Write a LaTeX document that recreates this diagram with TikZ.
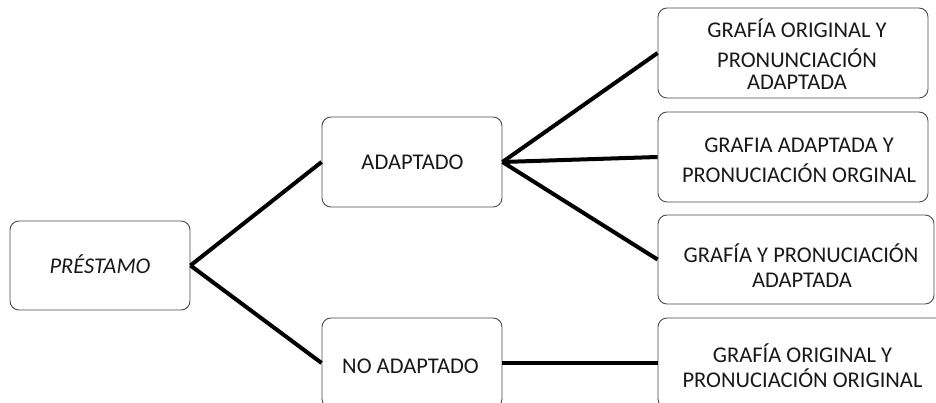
\documentclass[tikz,border=0pt]{standalone}
\usepackage{fontspec}
\setmainfont{Carlito}
\begin{document}
\begin{tikzpicture}[x=1pt,y=-1pt,
  box/.style={draw=black!70, line width=0.9pt, rounded corners=9pt, fill=white, inner sep=0pt},
  txt/.style={anchor=base, inner sep=0pt, text=black!90, font=\fontsize{22.5}{25}\selectfont},
  link/.style={line width=4pt, black}]
  \clip (0,0) rectangle (936,403);
  \fill[white] (0,0) rectangle (936,403);

  % boxes of the root and of the first level
  \node[box, minimum width=180pt, minimum height=89pt] (pre) at (100,265.5) {};
  \node[box, minimum width=180pt, minimum height=90pt] (ad) at (412,162) {};
  \node[box, minimum width=180pt, minimum height=90pt] (noad) at (412,363) {};

  % boxes of the second level
  \node[box, minimum width=270pt, minimum height=90pt] (g1) at (793,53) {};
  \node[box, minimum width=270pt, minimum height=90pt] (g2) at (793,157) {};
  \node[box, minimum width=276pt, minimum height=89pt] (g3) at (796,259.5) {};
  \node[box, minimum width=290pt, minimum height=90pt] (g4) at (803,363) {};

  % labels, one node per printed line
  \node[txt] (preT) at (100,273) {\itshape PRÉSTAMO};
  \node[txt] (adT) at (412.5,170) {ADAPTADO};
  \node[txt] (noadT) at (410.5,373) {NO ADAPTADO};

  \node[txt] (g1a) at (797,38) {GRAFÍA ORIGINAL Y};
  \node[txt] (g1b) at (797,68) {PRONUNCIACIÓN};
  \node[txt] (g1c) at (797,90) {ADAPTADA};

  \node[txt] (g2a) at (799,153) {GRAFIA ADAPTADA Y};
  \node[txt] (g2b) at (799,183) {PRONUCIACIÓN ORGINAL};

  \node[txt] (g3a) at (801,262) {GRAFÍA Y PRONUCIACIÓN};
  \node[txt] (g3b) at (802,287) {ADAPTADA};

  \node[txt] (g4a) at (802.5,362) {GRAFÍA ORIGINAL Y};
  \node[txt] (g4b) at (802.5,387) {PRONUCIACIÓN ORIGINAL};

  % connectors
  \draw[link] (pre.east) -- (ad.west);
  \draw[link] (pre.east) -- (noad.west);
  \draw[link] (ad.east) -- (g1.west);
  \draw[link] (ad.east) -- (g2.west);
  \draw[link] (ad.east) -- (g3.west);
  \draw[link] (noad.east) -- (g4.west);
\end{tikzpicture}
\end{document}
